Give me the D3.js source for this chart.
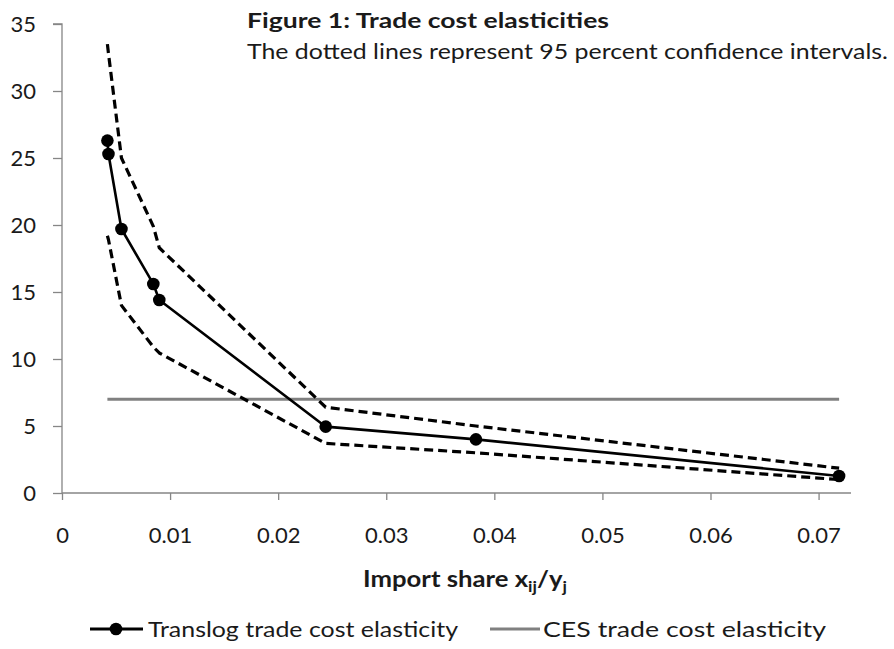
<!DOCTYPE html>
<html>
<head>
<meta charset="utf-8">
<script src="https://cdn.jsdelivr.net/npm/d3@7"></script>
<style>
  html, body { margin: 0; padding: 0; background: #fff; }
  svg { display: block; font-family: Lato, "Open Sans", sans-serif; }
</style>
</head>
<body>
<svg id="chart" width="894" height="649"></svg>
<script>
// ---- data ----
const importShare = [0.0042, 0.0043, 0.0055, 0.00845, 0.0090, 0.0244, 0.0383, 0.0719];
const translog    = [26.3, 25.3, 19.7, 15.6, 14.4, 4.95, 4.0, 1.27];
const upperCI     = [33.5, 32.8, 25.0, 19.9, 18.3, 6.4, 5.0, 1.85];
const lowerCI     = [19.2, 18.9, 14.0, 10.9, 10.45, 3.7, 3.0, 1.0];
const ces         = [7.0, 7.0, 7.0, 7.0, 7.0, 7.0, 7.0, 7.0];
const xTicks = [0, 0.01, 0.02, 0.03, 0.04, 0.05, 0.06, 0.07];
const yTicks = [0, 5, 10, 15, 20, 25, 30, 35];
const titleText = "Figure 1: Trade cost elasticities";
const subtitleText = "The dotted lines represent 95 percent confidence intervals.";
const legendLabels = ["Translog trade cost elasticity", "CES trade cost elasticity"];

// ---- layout ----
const svg = d3.select("#chart");
const x = d3.scaleLinear().domain([0, 0.0730]).range([62, 851]);
const y = d3.scaleLinear().domain([0, 35]).range([493, 24]);
const axisColor = "#868686";
const textColor = "#1a1a1a";

// axes
const xAxis = d3.axisBottom(x).tickValues(xTicks).tickSize(7).tickPadding(27)
  .tickFormat(d => d === 0 ? "0" : d3.format(".2f")(d));
const yAxis = d3.axisLeft(y).tickValues(yTicks).tickSize(9).tickPadding(17)
  .tickFormat(d3.format("d"));

const gx = svg.append("g").attr("transform", `translate(0,${y(0)})`).call(xAxis);
const gy = svg.append("g").attr("transform", `translate(${x(0)},0)`).call(yAxis);
[gx, gy].forEach(g => {
  g.select(".domain").attr("stroke", axisColor).attr("stroke-width", 1.3);
  g.selectAll(".tick line").attr("stroke", axisColor).attr("stroke-width", 1.3);
  g.selectAll(".tick text").attr("fill", textColor).attr("font-size", 22)
    .attr("font-family", "Lato, sans-serif");
});
gy.select(".domain").attr("d", `M-9,${y(35)}H0V${y(0)}`);
gx.select(".domain").attr("d", `M${x(0)},0H${x.range()[1]}`);

// data pairs
const pts = arr => importShare.map((v, i) => [v, arr[i]]);
const line = d3.line().x(d => x(d[0])).y(d => y(d[1]));

// CES line
svg.append("path").attr("d", line(pts(ces)))
  .attr("fill", "none").attr("stroke", "#808080").attr("stroke-width", 3);

// CI dashed
[upperCI, lowerCI].forEach(arr => {
  svg.append("path").attr("d", line(pts(arr)))
    .attr("fill", "none").attr("stroke", "#000").attr("stroke-width", 3.2)
    .attr("stroke-dasharray", "9,5").attr("stroke-linejoin", "round");
});

// translog
svg.append("path").attr("d", line(pts(translog)))
  .attr("fill", "none").attr("stroke", "#000").attr("stroke-width", 2.6);
svg.append("g").selectAll("circle").data(pts(translog)).join("circle")
  .attr("cx", d => x(d[0])).attr("cy", d => y(d[1])).attr("r", 6.3).attr("fill", "#000");

// titles
svg.append("text").attr("x", 247).attr("y", 28).attr("font-weight", "bold")
  .attr("font-size", 20).attr("fill", textColor)
  .attr("textLength", 362).attr("lengthAdjust", "spacingAndGlyphs").text(titleText);
svg.append("text").attr("x", 247).attr("y", 59)
  .attr("font-size", 21).attr("fill", textColor)
  .attr("textLength", 641).attr("lengthAdjust", "spacingAndGlyphs").text(subtitleText);

// x axis title
const at = svg.append("text").attr("x", 363).attr("y", 587)
  .attr("font-weight", "bold").attr("font-size", 22).attr("fill", textColor)
  .attr("textLength", 204).attr("lengthAdjust", "spacingAndGlyphs");
at.append("tspan").text("Import share  x");
at.append("tspan").attr("font-size", 15).attr("dy", 5).text("ij");
at.append("tspan").attr("dy", -5).text("/y");
at.append("tspan").attr("font-size", 15).attr("dy", 5).text("j");

// legend
const ly = 629;
const lg = svg.append("g");
lg.append("line").attr("x1", 90).attr("x2", 143).attr("y1", ly).attr("y2", ly)
  .attr("stroke", "#000").attr("stroke-width", 3);
lg.append("circle").attr("cx", 116).attr("cy", ly).attr("r", 6.3).attr("fill", "#000");
lg.append("text").attr("x", 148).attr("y", ly + 8).attr("font-size", 22)
  .attr("fill", textColor).attr("textLength", 310).attr("lengthAdjust", "spacingAndGlyphs")
  .text(legendLabels[0]);
lg.append("line").attr("x1", 490).attr("x2", 540).attr("y1", ly).attr("y2", ly)
  .attr("stroke", "#808080").attr("stroke-width", 3);
lg.append("text").attr("x", 543).attr("y", ly + 8).attr("font-size", 22)
  .attr("fill", textColor).attr("textLength", 283).attr("lengthAdjust", "spacingAndGlyphs")
  .text(legendLabels[1]);
</script>
</body>
</html>
